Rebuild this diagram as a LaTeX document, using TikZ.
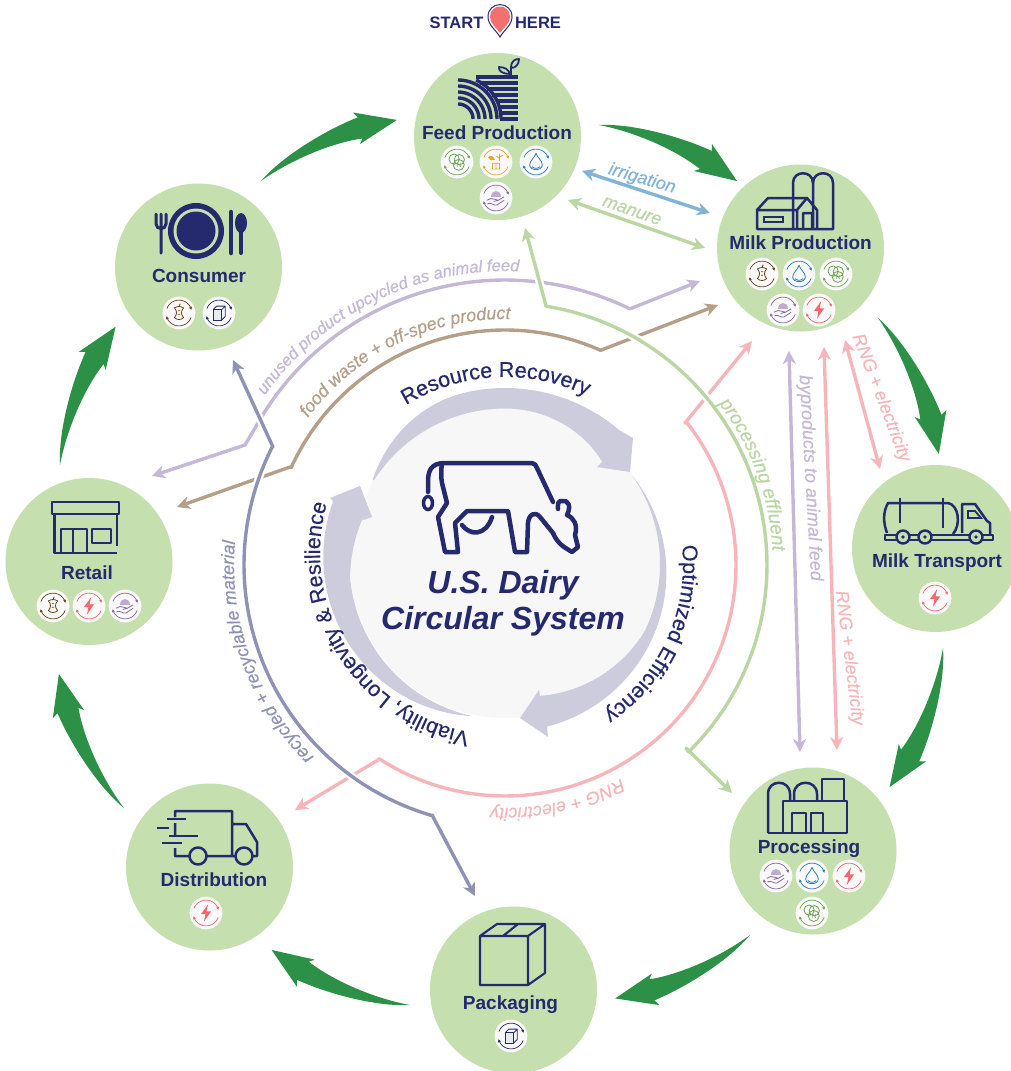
\documentclass[tikz,border=0pt]{standalone}
\usepackage{fontspec}
\usetikzlibrary{arrows.meta,decorations.text,calc,patterns}
\newfontfamily\labf{Liberation Sans}
\newfontfamily\labm[FakeBold=0.35]{Liberation Sans}
\definecolor{navy}{HTML}{25296E}
\definecolor{stagegreen}{HTML}{C6DFAE}
\definecolor{flowgreen}{HTML}{2C9147}
\definecolor{ringgrey}{HTML}{CDCCDD}
\definecolor{corewhite}{HTML}{F7F7F7}
\definecolor{lpurple}{HTML}{C4B8D6}
\definecolor{lbrown}{HTML}{B4A088}
\definecolor{lnavy}{HTML}{8F92B5}
\definecolor{lgreen}{HTML}{BAD6A3}
\definecolor{lpink}{HTML}{F6B6B9}
\definecolor{lblue}{HTML}{82B4D8}
\definecolor{bapple}{HTML}{6E4018}
\definecolor{bwater}{HTML}{2B7DB9}
\definecolor{bvenn}{HTML}{6FA455}
\definecolor{bhand}{HTML}{8A66A8}
\definecolor{bbolt}{HTML}{F2686B}
\definecolor{bgold}{HTML}{E2A92B}
\definecolor{pinred}{HTML}{F4706F}
\def\fstage{\fontsize{19}{19}\selectfont\labf\bfseries}
\def\fring{\fontsize{21.5}{21.5}\selectfont\labm\color{navy}}
\def\fpur{\fontsize{16.5}{16.5}\selectfont\labm\itshape\color{lpurple}}
\def\fbro{\fontsize{17.8}{17.8}\selectfont\labm\itshape\color{lbrown}}
\def\fnav{\fontsize{18}{18}\selectfont\labm\itshape\color{lnavy}}
\def\fgre{\fontsize{19}{19}\selectfont\labm\itshape\color{lgreen}}
\def\fpin{\fontsize{18}{18}\selectfont\labm\itshape\color{lpink}}
\pgfmathdeclarefunction{rx}{2}{\pgfmathparse{505+#1*cos(#2)}}
\pgfmathdeclarefunction{ry}{2}{\pgfmathparse{565+#1*sin(#2)}}
\tikzset{
 stage/.style={circle,fill=stagegreen,minimum size=167pt,inner sep=0pt},
 stagelabel/.style={font=\fstage,text=navy,inner sep=0pt},
 icon/.style={draw=navy,line width=2.5pt,line join=round,fill=none},
 flowarrow/.style={fill=flowgreen},
 ringarrow/.style={fill=ringgrey},
 conn/.style={line width=3.4pt,line join=round,-{Stealth[length=13pt,width=13pt,inset=4pt]}},
 conndbl/.style={line width=3.4pt,line join=round,{Stealth[length=13pt,width=13pt,inset=4pt]}-{Stealth[length=13pt,width=13pt,inset=4pt]}},
 casing/.style={draw=white,line width=8pt},
 straightlabel/.style={inner sep=0pt,font=\fontsize{18}{18}\selectfont\labm\itshape},
 bline/.style={line width=.8pt,line join=round},
 barc/.style={line width=.7pt,-{Stealth[length=3pt,width=3.2pt]}},
 dom/.style 2 args={domain=#1:#2,samples=90,variable=\t},
 badgescope/.style 2 args={shift={(#1,#2)},scale=1.15},
}
% green crescent arrow, tail x, tail y, heading
\newcommand\flowarr[3]{\path[flowarrow,shift={(#1,#2)},rotate=-#3]
 (0,0) .. controls (30,-14) and (80,-20) .. (114.4,-18.4) -- (111.8,-24.9) -- (149,0) -- (105.3,6.9) -- (110,2.8) .. controls (80,-6) and (35,-7) .. (0,0) -- cycle;}
\newcommand\badgebase[1]{\fill[white] (0,0) circle (14.2);\fill[corewhite!70!white] (0,0) circle (13.6);
 \draw[barc,#1] plot[domain=200:345,samples=20,variable=\t]({11.2*cos(\t)},{11.2*sin(\t)});
 \draw[barc,#1] plot[domain=20:165,samples=20,variable=\t]({11.2*cos(\t)},{11.2*sin(\t)});}
\newcommand\gapple[2]{\begin{scope}[badgescope={#1}{#2}]\badgebase{bapple}
 \draw[bline,bapple] (-4,-4.5) .. controls (-1,-6) and (1,-6) .. (4,-4.5) .. controls (1.5,-1.5) and (1.5,1) .. (4,4) .. controls (2,6.2) and (-2,6.2) .. (-4,4) .. controls (-1.5,1) and (-1.5,-1.5) .. (-4,-4.5) -- cycle;
 \draw[bline,bapple] (0,-5.5) -- (1,-8) (-1,-2) -- (1,-2) (-1,1) -- (1,1);
 \end{scope}}
\newcommand\gwater[2]{\begin{scope}[badgescope={#1}{#2}]\badgebase{bwater}
 \draw[bline,bwater] (0,-7.5) .. controls (1,-4) and (5.5,-1) .. (5.5,2.5) .. controls (5.5,8) and (-5.5,8) .. (-5.5,2.5) .. controls (-5.5,-1) and (-1,-4) .. (0,-7.5) -- cycle;
 \draw[bline,bwater] (-3.5,4) .. controls (-1.5,6) and (1.5,6) .. (3.5,4);
 \end{scope}}
\newcommand\gvenn[2]{\begin{scope}[badgescope={#1}{#2}]\badgebase{bvenn}
 \draw[bline,bvenn] (-2.5,-2.5) circle (4.5) (2,-2) circle (4.5) (1.5,2.5) circle (4.8);
 \node[inner sep=0pt,text=bvenn,font=\fontsize{6}{6}\selectfont\labf] (vN) at (2,3) {N};
 \end{scope}}
\newcommand\ghand[2]{\begin{scope}[badgescope={#1}{#2}]\badgebase{bhand}
 \fill[bhand!55!white] (-4.5,-1) .. controls (-4.5,-8) and (4.5,-8) .. (4.5,-1) -- cycle;
 \draw[bline,bhand] (-8,2) -- (-4.5,0.5) .. controls (-2,0) and (0,2) .. (2,2) -- (7,-1) (-2,3) -- (2,2) (-7.5,5) .. controls (-4,3.5) and (-2,7) .. (1,6) -- (7,2);
 \end{scope}}
\newcommand\gbolt[2]{\begin{scope}[badgescope={#1}{#2}]\badgebase{bbolt}
 \fill[bbolt] (1.8,-7.5) -- (-4.5,1) -- (-0.5,1) -- (-1.8,7.5) -- (4.5,-1.5) -- (0.5,-1.5) -- cycle;
 \end{scope}}
\newcommand\gbox[2]{\begin{scope}[badgescope={#1}{#2}]\badgebase{navy}
 \draw[bline,navy,fill=white!90!navy] (-5,-3) rectangle (2.5,6);
 \draw[bline,navy] (-5,-3) -- (-2,-6) -- (5.5,-6) -- (2.5,-3) (5.5,-6) -- (5.5,3) -- (2.5,6);
 \end{scope}}
\newcommand\ggold[2]{\begin{scope}[badgescope={#1}{#2}]\badgebase{bgold}
 \fill[bgold] (-7,-4) .. controls (-5,-7) and (-2,-5) .. (-1,-2) .. controls (-4,-1) and (-6,-1.5) .. (-7,-4) -- cycle;
 \draw[bline,bgold] (3,-7) -- (3,-1) (3,-4) -- (6,-6) (3,-3) -- (0.5,-5) (-3,1) rectangle (3,6) (0,1) -- (0,6);
 \end{scope}}
\begin{document}
\begin{tikzpicture}[x=1pt,y=-1pt]
\clip (0,0) rectangle (1011,1071);
\fill[white] (0,0) rectangle (1011,1071);

% centre
\node[circle,fill=corewhite,minimum size=310pt,inner sep=0pt] (core) at (505,563) {};
\path[ringarrow] plot[domain=212.5:310.4,samples=60,variable=\t] ({505+(157+19*sin(min(90,(\t-212.5)*2)))*cos(\t)},{564+(157+19*sin(min(90,(\t-212.5)*2)))*sin(\t)})
  -- (633,438) -- (630,472) -- (597,467) -- (602,462)
  -- plot[domain=313.3:212.5,samples=60,variable=\t] ({505+(155.5-14*(max(0,\t-270)/43)^2)*cos(\t)},{564+(155.5-14*(max(0,\t-270)/43)^2)*sin(\t)}) -- cycle;
\path[ringarrow] plot[domain=-34.5:75.5,samples=60,variable=\t] ({505+(155+13*sin((\t+34.5)*90/110))*cos(\t)},{564+(155+13*sin((\t+34.5)*90/110))*sin(\t)})
  -- (548,737) -- (520,718) -- (539,690) -- (540,697)
  -- plot[domain=75.1:-34.5,samples=60,variable=\t] ({505+(155-18.5*pow(max(0.001,\t-25)/50,1.2))*cos(\t)},{564+(155-18.5*pow(max(0.001,\t-25)/50,1.2))*sin(\t)}) -- cycle;
\path[ringarrow] plot[domain=103:200.1,samples=60,variable=\t] ({505+(156+27*sin((\t-103)*90/97))*cos(\t)},{564+(156+27*sin((\t-103)*90/97))*sin(\t)})
  -- (330,498) -- (360,486) -- (372,517) -- (363,520)
  -- plot[domain=197.6:103,samples=60,variable=\t] ({505+(155.5-6*max(0,\t-175)/22.6)*cos(\t)},{564+(155.5-6*max(0,\t-175)/22.6)*sin(\t)}) -- cycle;

% cow
\draw[navy,line width=4.5pt,line join=round,line cap=round,fill=none]
 (445,463) -- (532,463) .. controls (535,463) and (536,466) .. (537,468) -- (553,502)
 (445,463) .. controls (430,463) and (428,472) .. (428,482) -- (428,492)
 (442,463) .. controls (441,470) and (441,478) .. (442,483) -- (447,503) -- (438,517) -- (445,552) -- (458,552) -- (455,523) -- (467,511) -- (508,511) -- (515,552) -- (527,552) -- (528,523) .. controls (529,514) and (535,511) .. (540,517) -- (553,533) .. controls (558,545) and (566,548) .. (572,552) -- (578,547) -- (575,535) .. controls (578,525) and (574,518) .. (567,515) .. controls (572,505) and (567,500) .. (563,501) .. controls (557,500) and (558,505) .. (558,509)
 (462,525) .. controls (470,536) and (486,536) .. (492,517);
\draw[navy,line width=3.5pt] (428,503) ellipse (4.5 and 6.5);
\node[inner sep=0pt,text=navy,align=center,font=\fontsize{32}{36}\selectfont\labf\bfseries\itshape] (title) at (503,603) {U.S. Dairy\\Circular System};

% ring labels
\path[decorate,decoration={text along path,text align=center,text={|\fring|Resource Recovery}}] plot[dom={227}{307}] ({rx(188,\t)},{ry(188,\t)});
\path[decorate,decoration={text along path,text align=center,text={|\fring|Optimized Efficiency}}] plot[dom={-35}{85}] ({rx(178,\t)},{ry(178,\t)});
\path[decorate,decoration={text along path,text align=center,text={|\fring|Viability, Longevity {\&} Resilience}}] plot[dom={88}{208}] ({502+182*cos(\t)},{553+182*sin(\t)});

% stages
\node[stage] (feed) at (497.5,136.5) {};
\node[stage] (milk) at (800.5,248) {};
\node[stage] (truck) at (935.5,548.5) {};
\node[stage] (proc) at (813,851) {};
\node[stage] (pack) at (513.5,990) {};
\node[stage] (dist) at (209.5,867) {};
\node[stage] (retail) at (89,561.5) {};
\node[stage] (cons) at (198.5,267) {};

% green flow arrows
\flowarr{599}{125}{22.1}
\flowarr{878}{318}{65.9}
\flowarr{943}{648}{111}
\flowarr{750}{935}{154.8}
\flowarr{410}{1005}{201.7}
\flowarr{124}{808}{244.1}
\flowarr{60}{465}{291.9}
\flowarr{261}{181}{335.8}

% connector ends
\coordinate (irrA) at (582,171); \coordinate (irrB) at (710,213);
\coordinate (manA) at (568,200); \coordinate (manB) at (705,248);
\coordinate (purA) at (152,476); \coordinate (purK) at (245,445); \coordinate (purB) at (700,281);
\coordinate (broA) at (177,507); \coordinate (broK) at (290,467); \coordinate (broB) at (718,305);
\coordinate (navA) at (233,360); \coordinate (navK) at (273,447); \coordinate (navB) at (475,896); \coordinate (navL) at (432,815);
\coordinate (greA) at (525,228); \coordinate (greK) at (545,302); \coordinate (greL) at (686,748); \coordinate (greB) at (732,793);
\coordinate (pinA) at (752,341); \coordinate (pinK) at (685,423); \coordinate (pinL) at (378,760); \coordinate (pinB) at (295,810);
\coordinate (bypA) at (789,351); \coordinate (bypB) at (800,752);
\coordinate (rngA) at (824,347); \coordinate (rngB) at (837,750);
\coordinate (rncA) at (845,340); \coordinate (rncB) at (880,469);

% connectors
\draw[conndbl,lblue] (irrA) -- (irrB);
\draw[conndbl,lgreen] (manA) -- (manB);
\draw[conndbl,lpurple] (bypA) -- (bypB);
\draw[conndbl,lpink] (rngA) -- (rngB);
\draw[conndbl,lpink] (rncA) -- (rncB);
\draw[conndbl,lpurple] (purB) -- plot[dom={296}{212.6}] ({rx(285,\t)},{ry(285,\t)}) -- (purK) -- (purA);
\draw[conndbl,lbrown] (broB) -- plot[dom={294}{204.5}] ({rx(235,\t)},{ry(235,\t)}) -- (broK) -- (broA);
\draw[conn,lpink] (pinL) -- plot[dom={123}{-38}] ({rx(231,\t)},{ry(231,\t)}) -- (pinK) -- (pinA);
\draw[casing] (pinL) -- (pinB);
\draw[casing] (greA) -- (greK) -- plot[dom={-81}{45.5}] ({rx(262,\t)},{ry(262,\t)}) -- (greL);
\draw[conndbl,lgreen] (greA) -- (greK) -- plot[dom={-81}{45.5}] ({rx(262,\t)},{ry(262,\t)}) -- (greL) -- (greB);
\draw[conn,lpink] (pinL) -- (pinB);
\draw[casing] (navA) -- (navK) -- plot[dom={207}{106}] ({rx(261,\t)},{ry(261,\t)}) -- (navL);
\draw[conndbl,lnavy] (navA) -- (navK) -- plot[dom={207}{106}] ({rx(261,\t)},{ry(261,\t)}) -- (navL) -- (navB);

% connector labels
\node[straightlabel,text=lblue,rotate=-16] (lirr) at (642,179) {irrigation};
\node[straightlabel,text=lgreen,rotate=-19] (lman) at (632,211) {manure};
\node[straightlabel,text=lpurple,rotate=-86.8] (lbyp) at (810,478) {byproducts to animal feed};
\node[straightlabel,text=lpink,rotate=-82.7] (lrng) at (849,658) {RNG + electricity};
\node[straightlabel,text=lpink,rotate=-69] (lrnc) at (881,398) {RNG + electricity};
\path[decorate,decoration={text along path,text align=center,text={|\fpur|unused product upcycled as animal feed}}] plot[dom={214}{274}] ({rx(294,\t)},{ry(294,\t)});
\path[decorate,decoration={text along path,text align=center,text={|\fbro|food waste + off-spec product}}] plot[dom={214}{274}] ({rx(246,\t)},{ry(246,\t)});
\path[decorate,decoration={text along path,text align=center,text={|\fnav|recycled + recyclable material}}] plot[dom={125}{195}] ({rx(271,\t)},{ry(271,\t)});
\path[decorate,decoration={text along path,text align=center,text={|\fgre|processing effluent}}] plot[dom={-50}{10}] ({rx(268,\t)},{ry(268,\t)});
\path[decorate,decoration={text along path,text align=center,text={|\fpin|RNG + electricity}}] plot[dom={47}{108}] ({rx(243,\t)},{ry(243,\t)});

% START HERE
\node[inner sep=0pt,text=navy,font=\fontsize{16.5}{16.5}\selectfont\labf\bfseries] (startL) at (456.5,23) {START};
\node[inner sep=0pt,text=navy,font=\fontsize{16.5}{16.5}\selectfont\labf\bfseries] (hereL) at (538,23) {HERE};
\path[fill=white,draw=navy,line width=1pt] (500,37) .. controls (496,30) and (488,25) .. (488,17) .. controls (488,0.5) and (512,0.5) .. (512,17) .. controls (512,25) and (504,30) .. (500,37) -- cycle;
\path[fill=pinred] (500,33) .. controls (497,28) and (490,24) .. (490,17) .. controls (490,3) and (510,3) .. (510,17) .. controls (510,24) and (503,28) .. (500,33) -- cycle;

% Feed Production
\node[stagelabel] (lfeed) at (497,132.5) {Feed Production};
\foreach \r in {15,21,27,33,39} \draw[navy,line width=3.4pt] plot[domain=270:360,samples=24,variable=\t] ({458+\r*cos(\t)},{119+\r*sin(\t)});
\draw[navy,line width=3.4pt] (476,77) -- (518,77);
\foreach \y/\x in {83/480,89/487,95/492,101/496,107/498,113/499,119/500} \draw[navy,line width=3.4pt] (\x,\y) -- (518,\y);
\draw[navy,line width=3.4pt] plot[domain=295:360,samples=20,variable=\t] ({458+43*cos(\t)},{119+43*sin(\t)});
\draw[navy,line width=1.8pt,line join=round] (511,77) -- (511,68) .. controls (511,60) and (516,59) .. (519,59) .. controls (519,64) and (516,68) .. (511,68) (510,74) .. controls (503,74) and (498,71) .. (499,67) .. controls (505,67) and (509,70) .. (510,74);
\gvenn{457}{162} \ggold{496}{162} \gwater{536}{162} \ghand{496}{198}

% Milk Production
\node[stagelabel] (lmilk) at (800.5,243) {Milk Production};
\draw[icon] (793,229) -- (793,183) .. controls (793,170) and (813,170) .. (813,183) -- (813,229);
\draw[icon] (813,183) .. controls (813,170) and (833,170) .. (833,183) -- (833,229) -- (757,229) -- (757,210) -- (768,198) -- (807,198) -- (817,210) -- (817,229);
\draw[icon] (757,210) -- (797,210) -- (807,198) (797,210) -- (797,229) (803,229) -- (803,213) -- (812,213) -- (812,229);
\draw[navy,line width=1.6pt] (764,217) rectangle (783,222);
\gapple{762}{274} \gwater{799}{274} \gvenn{836}{274} \ghand{783}{310} \gbolt{819}{310}

% Milk Transport
\node[stagelabel] (ltruck) at (937,563) {Milk Transport};
\draw[icon] (887,533) .. controls (883,522) and (883,512) .. (888,503) -- (948,503) .. controls (959,505) and (961,525) .. (953,534);
\draw[icon] (900,498) -- (900,523) (943,498) -- (943,528);
\draw[icon] (885,535) rectangle (993,540);
\draw[icon] (962,533) -- (962,504) -- (975,504) -- (987,521) -- (990,523) -- (990,535);
\draw[navy,line width=1.8pt] (968,511) -- (975,511) -- (981,518) -- (968,518) -- cycle;
\foreach \wx in {903,925,976} {\draw[navy,line width=2.4pt,fill=stagegreen] (\wx,537) circle (6.5);\fill[navy] (\wx,537) circle (1.8);}
\gbolt{935}{598}

% Processing
\node[stagelabel] (lproc) at (809,849) {Processing};
\draw[icon] (768,833) -- (768,794) .. controls (768,779) and (790,779) .. (790,794) -- (790,801) (794,801) -- (794,794) .. controls (794,779) and (817,779) .. (817,794) -- (817,801);
\draw[icon] (822,801) -- (822,779) -- (844,779) -- (844,801);
\draw[icon] (783,801) rectangle (847,833);
\draw[icon] (768,833) -- (783,833) (792,833) -- (792,813) -- (806,813) -- (806,833) (811,833) -- (811,813) -- (823,813) -- (823,833);
\ghand{776}{876} \gwater{812}{876} \gbolt{849}{876} \gvenn{812}{913}

% Packaging
\node[stagelabel] (lpack) at (510.5,1005) {Packaging};
\draw[icon,line width=2.1pt] (480,936) rectangle (528,985) (480,936) -- (497,924) -- (545,924) -- (528,936) (545,924) -- (545,973) -- (528,985) (503,936) -- (518,924);
\gbox{511}{1036}

% Distribution
\node[stagelabel] (ldist) at (214,880) {Distribution};
\draw[icon] (175,817) -- (175,811) -- (232,811) -- (232,856) (232,824) -- (246,824) -- (257,842) -- (257,856) -- (253,856) (235,856) -- (207,856) (189,856) -- (175,856) -- (175,848) (175,823) -- (175,836);
\draw[icon] (167,819) -- (186,819) (157,828) -- (169,828) (169,836) -- (198,836) (162,843) -- (182,843);
\draw[icon] (198,856) circle (8.5) (244,856) circle (8.5);
\gbolt{206}{913}

% Retail
\node[stagelabel] (lretail) at (87,573) {Retail};
\draw[icon] (52,502) rectangle (119,514);
\draw[icon] (54.5,514) -- (54.5,553) -- (117,553) (117,514) -- (117,546);
\draw[icon] (61,553) -- (61,529) -- (87,529) -- (87,553) (73,529) -- (73,553);
\draw[icon] (92,529) rectangle (111,543);
\gapple{53}{606} \gbolt{89}{606} \ghand{125}{606}

% Consumer
\node[stagelabel] (lcons) at (199,276) {Consumer};
\fill[navy] (196,231) circle (28);
\fill[stagegreen] (196,231) circle (22.5);
\fill[navy] (196,231) circle (19.5);
\draw[navy,line width=3pt,line cap=round] (156,214) -- (156,224) .. controls (156,230) and (166,230) .. (166,224) -- (166,214) (161,214) -- (161,253);
\draw[navy,line width=4.5pt,line cap=round] (231,212) -- (231,253);
\draw[navy,line width=4pt,line cap=round] (241,232) -- (241,253);
\fill[navy] (241,223) ellipse (6 and 10);
\gapple{179}{313} \gbox{219}{313}
\end{tikzpicture}
\end{document}
